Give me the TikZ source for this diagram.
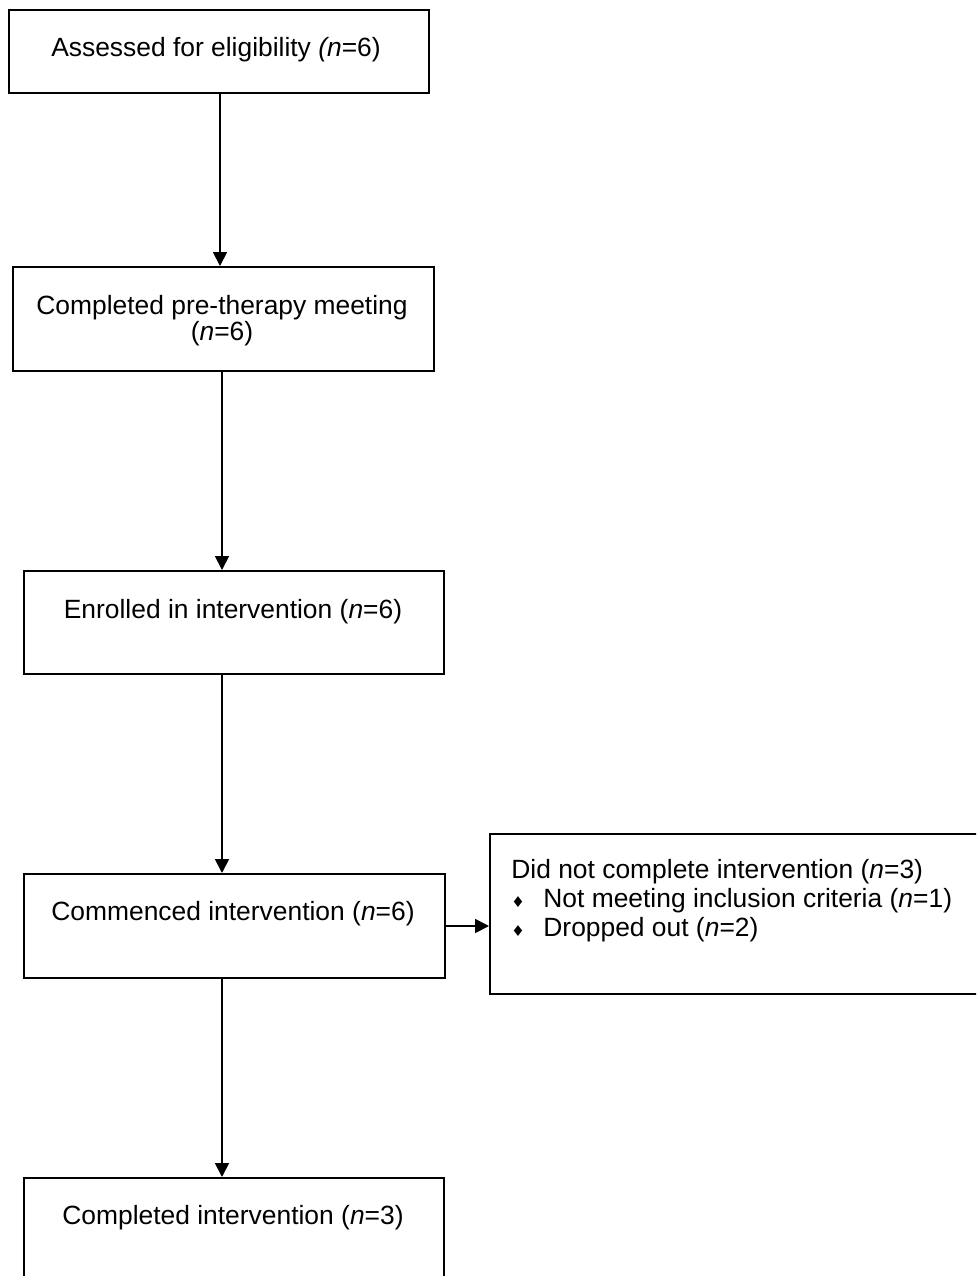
\documentclass[tikz,border=0pt]{standalone}
\usepackage{fontspec}
\setmainfont{Liberation Sans}
\newfontfamily\dejavu{DejaVu Sans}
\usetikzlibrary{arrows.meta}
\begin{document}
\begin{tikzpicture}[x=0.5pt,y=-0.5pt,
  box/.style={draw=black, line width=1pt, rectangle, inner sep=0pt, anchor=north west},
  lbl/.style={inner sep=0pt, anchor=base, font=\fontsize{13.2pt}{15.2pt}\selectfont},
  lblw/.style={lbl, anchor=base west},
  bul/.style={inner sep=0pt, anchor=base, font=\dejavu\fontsize{7.5pt}{7.5pt}\selectfont},
  arr/.style={-{Triangle[length=7pt,width=7pt]}, line width=0.9pt}]
\useasboundingbox (0,0) rectangle (976,1276);
\clip (0,0) rectangle (976,1276);
% boxes
\node[box, minimum width=210pt, minimum height=41.5pt] (b1) at (8,9) {};
\node[box, minimum width=210.5pt, minimum height=52pt] (b2) at (12,266) {};
\node[box, minimum width=210pt, minimum height=51.5pt] (b3) at (23,570) {};
\node[box, minimum width=210.5pt, minimum height=52pt] (b4) at (23,873) {};
\node[box, minimum width=260pt, minimum height=80pt] (b5) at (489,833) {};
\node[box, minimum width=210pt, minimum height=70pt] (b6) at (23,1177) {};
% texts
\node[lbl] (t1) at (216,56) {Assessed for eligibility \textit{(n}=6)};
\node[lbl] (t2a) at (222,314) {Completed pre-therapy meeting};
\node[lbl] (t2b) at (222,340) {(\textit{n}=6)};
\node[lbl] (t3) at (233,618) {Enrolled in intervention (\textit{n}=6)};
\node[lbl] (t4) at (233,920) {Commenced intervention (\textit{n}=6)};
\node[lbl] (t6) at (233,1224) {Completed intervention (\textit{n}=3)};
\node[lblw] (t5a) at (511,878) {Did not complete intervention (\textit{n}=3)};
\node[bul] (d1) at (518,907) {\symbol{"2666}};
\node[lblw] (t5b) at (543,907) {Not meeting inclusion criteria (\textit{n}=1)};
\node[bul] (d2) at (518,936) {\symbol{"2666}};
\node[lblw] (t5c) at (543,936) {Dropped out (\textit{n}=2)};
% connectors
\coordinate (xa) at (220,0);
\coordinate (xb) at (222,0);
\draw[arr] (xa |- b1.south) -- (xa |- b2.north);
\draw[arr] (xb |- b2.south) -- (xb |- b3.north);
\draw[arr] (xb |- b3.south) -- (xb |- b4.north);
\draw[arr] (xb |- b4.south) -- (xb |- b6.north);
\draw[arr] (b4.east) -- (b5.west |- b4.east);
\end{tikzpicture}
\end{document}
